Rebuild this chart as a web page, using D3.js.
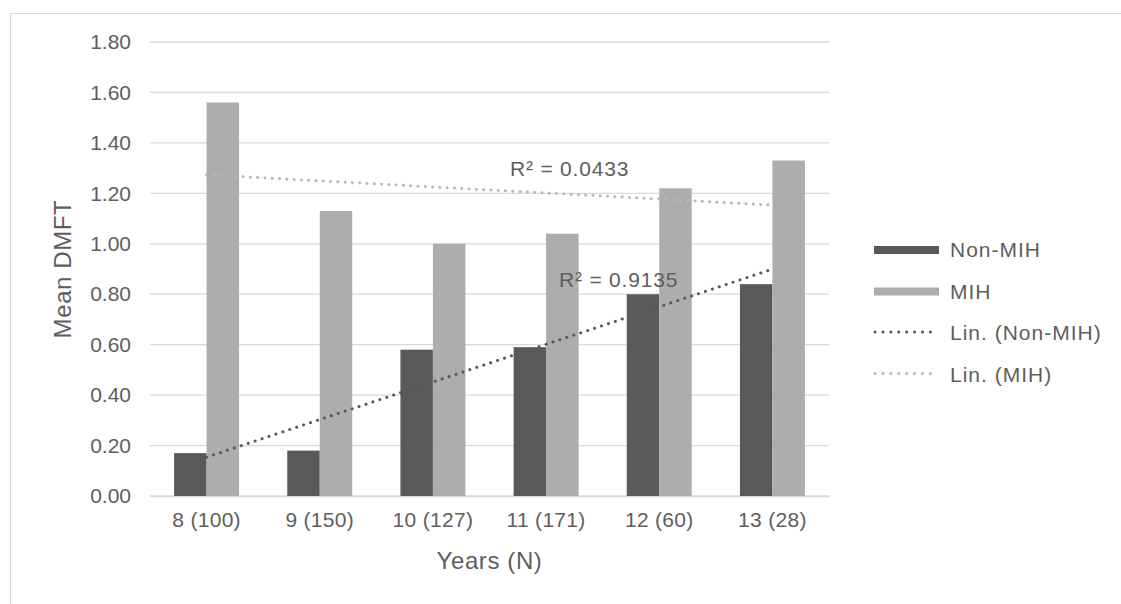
<!DOCTYPE html>
<html>
<head>
<meta charset="utf-8">
<script src="https://cdn.jsdelivr.net/npm/d3@7"></script>
<style>
  body { margin: 0; background: #fff; }
  text { font-family: "Liberation Sans", Arial, sans-serif; fill: #5e5e5e; }
</style>
</head>
<body>
<div id="chart"></div>
<script>
const years = ["8 (100)", "9 (150)", "10 (127)", "11 (171)", "12 (60)", "13 (28)"];
const nonMih = [0.17, 0.18, 0.58, 0.59, 0.80, 0.84];
const mih = [1.56, 1.13, 1.00, 1.04, 1.22, 1.33];
const seriesNames = ["Non-MIH", "MIH"];
const yTicks = [0, 0.2, 0.4, 0.6, 0.8, 1.0, 1.2, 1.4, 1.6, 1.8];
const r2Labels = ["R² = 0.9135", "R² = 0.0433"];

let width = 1121;
let height = 604;
let margin = { top: 42, right: 292, bottom: 108, left: 150 };
let innerWidth = width - margin.left - margin.right;
let innerHeight = height - margin.top - margin.bottom;

const colors = { "Non-MIH": "#595959", "MIH": "#adadad" };
const trendColors = { "Non-MIH": "#595959", "MIH": "#b8b8b8" };

const svg = d3.select("#chart")
    .append("svg")
    .attr("width", width)
    .attr("height", height)
    .style("display", "block");

// chart border (right and bottom edges fall outside the picture)
svg.append("path")
    .attr("d", `M10.5,${height} V13.5 H${width}`)
    .attr("fill", "none")
    .attr("stroke", "#d9d9d9")
    .attr("stroke-width", 1.2);

const g = svg.append("g")
    .attr("transform", `translate(${margin.left}, ${margin.top})`);

const x = d3.scaleBand()
    .domain(years)
    .range([0, innerWidth])
    .paddingInner(0.426)
    .paddingOuter(0.213);

const x1 = d3.scaleBand()
    .domain(seriesNames)
    .range([0, x.bandwidth()]);

const y = d3.scaleLinear()
    .domain([0, 1.8])
    .range([innerHeight, 0]);

// gridlines
g.append("g")
    .selectAll("line")
    .data(yTicks)
    .enter()
    .append("line")
    .attr("x1", 0)
    .attr("x2", innerWidth)
    .attr("y1", d => y(d))
    .attr("y2", d => y(d))
    .attr("stroke", "#d9d9d9")
    .attr("stroke-width", 1.3);

// Y axis labels
const yAxis = g.append("g")
    .call(d3.axisLeft(y).tickValues(yTicks).tickFormat(d3.format(".2f")).tickSize(0).tickPadding(19));
yAxis.select(".domain").remove();
yAxis.attr("font-size", 21).attr("font-family", null);
yAxis.selectAll("text").attr("fill", "#5e5e5e");

// X axis labels
const xAxis = g.append("g")
    .attr("transform", `translate(0, ${innerHeight})`)
    .call(d3.axisBottom(x).tickSize(0).tickPadding(16));
xAxis.select(".domain")
    .attr("stroke", "#d9d9d9")
    .attr("stroke-width", 1.3);
xAxis.attr("font-size", 21).attr("font-family", null);
xAxis.selectAll("text")
    .attr("fill", "#5e5e5e")
    .style("letter-spacing", "0.3px");

// bars
const rows = years.map((yr, i) => ({ year: yr, values: [
    { key: "Non-MIH", value: nonMih[i] },
    { key: "MIH", value: mih[i] }
] }));

g.selectAll(".group")
    .data(rows)
    .enter()
    .append("g")
    .attr("transform", d => `translate(${x(d.year)}, 0)`)
    .selectAll("rect")
    .data(d => d.values)
    .enter()
    .append("rect")
    .attr("x", d => x1(d.key))
    .attr("y", d => y(d.value))
    .attr("width", x1.bandwidth())
    .attr("height", d => innerHeight - y(d.value))
    .attr("fill", d => colors[d.key]);

// linear trendlines (least squares on category index)
function linFit(vals) {
    const n = vals.length;
    const xs = vals.map((v, i) => i + 1);
    const mx = d3.mean(xs), my = d3.mean(vals);
    const sxy = d3.sum(xs, (xv, i) => (xv - mx) * (vals[i] - my));
    const sxx = d3.sum(xs, xv => (xv - mx) * (xv - mx));
    const slope = sxy / sxx;
    return { a: my - slope * mx, b: slope, n: n };
}

const cx = d => x(d) + x.bandwidth() / 2;
[["Non-MIH", nonMih], ["MIH", mih]].forEach(([name, vals]) => {
    const fit = linFit(vals);
    g.append("line")
        .attr("x1", cx(years[0]))
        .attr("y1", y(fit.a + fit.b * 1))
        .attr("x2", cx(years[years.length - 1]))
        .attr("y2", y(fit.a + fit.b * fit.n))
        .attr("stroke", trendColors[name])
        .attr("stroke-width", 3)
        .attr("stroke-linecap", "round")
        .attr("stroke-dasharray", "0.1 7.2");
});

// R² labels
g.append("text")
    .attr("x", 409)
    .attr("y", 245)
    .style("font-size", "21px")
    .style("letter-spacing", "0.8px")
    .text(r2Labels[0]);
g.append("text")
    .attr("x", 360)
    .attr("y", 134)
    .style("font-size", "21px")
    .style("letter-spacing", "0.8px")
    .text(r2Labels[1]);

// axis titles
svg.append("text")
    .attr("transform", `translate(71, ${margin.top + innerHeight / 2}) rotate(-90)`)
    .attr("text-anchor", "middle")
    .style("font-size", "24px")
    .style("letter-spacing", "0.6px")
    .text("Mean DMFT");

svg.append("text")
    .attr("x", margin.left + innerWidth / 2)
    .attr("y", 569)
    .attr("text-anchor", "middle")
    .style("font-size", "24px")
    .style("letter-spacing", "0.6px")
    .text("Years (N)");

// legend
const legendItems = [
    { label: "Non-MIH", type: "bar", color: colors["Non-MIH"] },
    { label: "MIH", type: "bar", color: colors["MIH"] },
    { label: "Lin. (Non-MIH)", type: "line", color: trendColors["Non-MIH"] },
    { label: "Lin. (MIH)", type: "line", color: trendColors["MIH"] }
];

const legend = svg.append("g")
    .attr("transform", "translate(874, 250)");

const li = legend.selectAll("g")
    .data(legendItems)
    .enter()
    .append("g")
    .attr("transform", (d, i) => `translate(0, ${i * 41.5})`);

li.filter(d => d.type === "bar")
    .append("rect")
    .attr("x", 0)
    .attr("y", -4)
    .attr("width", 65)
    .attr("height", 8)
    .attr("fill", d => d.color);

li.filter(d => d.type === "line")
    .append("line")
    .attr("x1", 1)
    .attr("x2", 64)
    .attr("y1", -1)
    .attr("y2", -1)
    .attr("stroke", d => d.color)
    .attr("stroke-width", 3)
    .attr("stroke-linecap", "round")
    .attr("stroke-dasharray", "0.1 7.8");

li.append("text")
    .attr("x", 76)
    .attr("y", 0)
    .attr("dy", "0.35em")
    .style("font-size", "21px")
    .style("letter-spacing", "1px")
    .text(d => d.label);
</script>
</body>
</html>
